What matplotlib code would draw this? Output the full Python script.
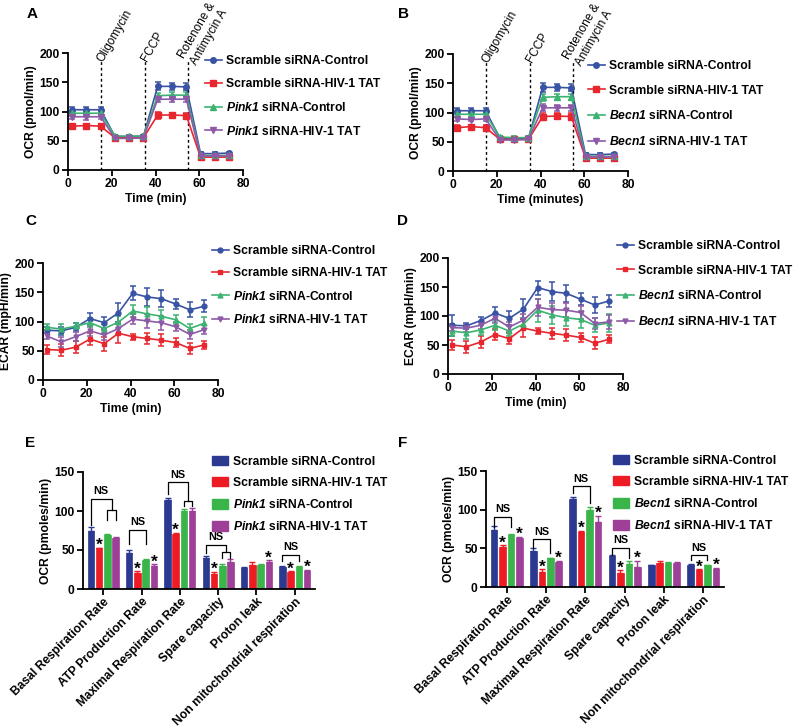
import numpy as np
import matplotlib
matplotlib.use('Agg')
import matplotlib.pyplot as plt
from matplotlib.lines import Line2D
from matplotlib.patches import Patch

plt.rcParams['font.family'] = 'Liberation Sans'
plt.rcParams['font.weight'] = 'bold'
plt.rcParams['axes.labelweight'] = 'bold'
plt.rcParams['mathtext.fontset'] = 'custom'
plt.rcParams['mathtext.rm'] = 'Liberation Sans:bold'
plt.rcParams['mathtext.sf'] = 'Liberation Sans:italic:bold'
plt.rcParams['mathtext.bf'] = 'Liberation Sans:bold'

# ---------------- data ----------------
time = [1.9, 8.4, 14.9, 21.5, 28.0, 34.5, 41.0, 47.6, 54.1, 60.6, 67.1, 73.7]
injections = [15, 35, 55]
inj_names = ['Oligomycin', 'FCCP', 'Rotenone &\nAntimycin A']

# OCR, panel A (Pink1)
ocrA = [[103, 103, 103, 57, 57, 58, 143, 143, 142, 28, 28, 29],
        [75, 76, 75, 55, 55, 55, 94, 94, 93, 22, 22, 22],
        [97, 97, 97, 58, 58, 58, 127, 128, 128, 25, 25, 25],
        [91, 91, 91, 54, 54, 55, 121, 121, 121, 24, 24, 24]]
ocrA_err = [[5, 5, 5, 2, 2, 2, 7, 6, 6, 2, 2, 2],
            [4, 3, 4, 2, 2, 2, 6, 3, 5, 2, 2, 2],
            [4, 4, 4, 2, 2, 2, 5, 5, 5, 2, 2, 2],
            [4, 6, 4, 2, 2, 2, 5, 5, 5, 2, 2, 2]]
# OCR, panel B (Becn1)
ocrB = [[103, 103, 103, 56, 55, 56, 143, 143, 142, 28, 28, 29],
        [74, 76, 74, 54, 54, 54, 93, 94, 93, 22, 22, 22],
        [97, 97, 97, 58, 57, 57, 126, 127, 127, 25, 25, 25],
        [89, 88, 89, 53, 53, 54, 108, 108, 108, 24, 24, 24]]
ocrB_err = [[5, 5, 5, 2, 2, 2, 8, 6, 6, 2, 2, 2],
            [4, 3, 4, 2, 2, 2, 6, 5, 6, 2, 2, 2],
            [4, 4, 4, 2, 2, 2, 6, 5, 5, 2, 2, 2],
            [3, 3, 3, 2, 2, 2, 6, 5, 5, 2, 2, 2]]
# ECAR, panel C (Pink1)
ecarC = [[85, 84, 90, 105, 98, 115, 148, 142, 139, 130, 120, 126],
         [52, 51, 56, 70, 62, 80, 74, 71, 68, 64, 54, 60],
         [90, 87, 92, 98, 88, 99, 118, 113, 109, 103, 88, 97],
         [75, 65, 74, 84, 77, 88, 104, 101, 98, 91, 78, 86]]
ecarC_err = [[5, 7, 7, 10, 10, 16, 12, 16, 15, 9, 13, 10],
             [8, 10, 10, 10, 12, 16, 5, 10, 10, 7, 10, 7],
             [5, 8, 5, 8, 7, 10, 10, 12, 10, 8, 8, 10],
             [5, 8, 8, 8, 8, 10, 8, 12, 12, 8, 8, 8]]
# ECAR, panel D (Becn1)
ecarD = [[84, 83, 92, 105, 96, 112, 149, 142, 139, 129, 119, 126],
         [50, 47, 55, 68, 61, 79, 74, 70, 67, 63, 53, 60],
         [74, 71, 76, 84, 74, 86, 110, 102, 97, 94, 84, 88],
         [80, 79, 84, 96, 81, 93, 115, 111, 110, 106, 87, 90]]
ecarD_err = [[18, 5, 7, 10, 12, 18, 12, 16, 15, 10, 13, 10],
             [8, 10, 10, 10, 10, 16, 5, 10, 10, 7, 10, 7],
             [8, 10, 8, 8, 8, 10, 20, 15, 15, 15, 12, 15],
             [6, 6, 6, 8, 8, 10, 15, 12, 12, 12, 10, 12]]

params = ['Basal Respiration Rate', 'ATP Production Rate', 'Maximal Respiration Rate',
          'Spare capacity', 'Proton leak', 'Non mitochondrial respiration']
# bar values per group (rows = parameter, cols = condition)
barE = [[74, 52, 69, 65], [46, 20, 37, 30], [114, 71, 100, 100],
        [40, 19, 30, 34], [27, 31, 31, 35], [28, 22, 28, 23]]
barE_err = [[5, 1, 1, 2], [4, 3, 1, 2], [3, 1, 3, 4],
            [2, 3, 2, 4], [1, 3, 1, 2], [2, 1, 1, 2]]
barF = [[74, 52, 67, 64], [46, 20, 37, 32], [114, 71, 99, 84],
        [40, 18, 30, 26], [28, 31, 31, 31], [29, 22, 28, 23]]
barF_err = [[5, 2, 1, 1], [4, 3, 1, 2], [3, 2, 4, 8],
            [2, 4, 3, 8], [1, 3, 1, 1], [1, 1, 1, 2]]
starsE = [(0, 1), (1, 1), (1, 3), (2, 1), (3, 1), (4, 3), (5, 1), (5, 3)]
starsF = [(0, 1), (0, 3), (1, 1), (1, 3), (2, 1), (2, 3), (3, 1), (3, 3), (5, 1), (5, 3)]
# NS brackets: group, left bar, right bar (2.5 = between bars 2 and 3), top, left foot, right foot, label
bracketsE = [(0, 0, 2.5, 116, 82, 101, 'NS'), (0, 2, 3, 101, 88, 88, ''),
             (1, 0, 2, 76, 58, 58, 'NS'),
             (2, 0, 2.5, 137, 122, 113, 'NS'), (2, 2, 3, 113, 106, 106, ''),
             (3, 0, 2.5, 57, 46, 48, 'NS'), (3, 2, 3, 48, 40, 40, ''),
             (5, 0, 2, 44, 36, 36, 'NS')]
bracketsF = [(0, 0, 2, 91, 78, 78, 'NS'), (1, 0, 2, 62, 51, 44, 'NS'),
             (2, 0, 2, 130, 121, 108, 'NS'), (3, 0, 2, 51, 41, 37, 'NS'),
             (5, 0, 2, 41, 35, 35, 'NS')]

labels_pink = ['Scramble siRNA-Control', 'Scramble siRNA-HIV-1 TAT',
               r'$\mathsf{Pink1}$ siRNA-Control', r'$\mathsf{Pink1}$ siRNA-HIV-1 TAT']
labels_becn = ['Scramble siRNA-Control', 'Scramble siRNA-HIV-1 TAT',
               r'$\mathsf{Becn1}$ siRNA-Control', r'$\mathsf{Becn1}$ siRNA-HIV-1 TAT']

line_cols = ['#3953a4', '#e8262e', '#3db371', '#8e5aa8']
bar_cols = ['#2b3990', '#ed1c24', '#39b54a', '#9e3f98']
markers = ['o', 's', '^', 'v']

W, H = 800, 727
fig = plt.figure(figsize=(8, 7.27), dpi=100)


def fbox(x0, y0, x1, y1):
    # pixel box -> figure fraction
    return [x0 / W, 1 - y1 / H, (x1 - x0) / W, (y1 - y0) / H]


def style(ax):
    for s in ['top', 'right']:
        ax.spines[s].set_visible(False)
    for s in ['left', 'bottom']:
        ax.spines[s].set_linewidth(1.3)
    ax.tick_params(direction='out', length=4, width=1.3, labelsize=8.7, pad=2)


def line_panel(box, ys, errs, labels, leg_xy, spacing, xlabel, ylabel, msize, inj=False):
    ax = fig.add_axes(fbox(*box))
    for i in range(4):
        ax.errorbar(time, ys[i], yerr=errs[i], color=line_cols[i], marker=markers[i],
                    ms=msize, lw=1.2, elinewidth=1.1, capsize=2, capthick=1.1)
    ax.set_xlim(0, 80)
    ax.set_ylim(0, 200)
    ax.set_xticks([0, 20, 40, 60, 80])
    ax.set_yticks([0, 50, 100, 150, 200])
    ax.set_xlabel(xlabel, fontsize=8.7, labelpad=2)
    ax.set_ylabel(ylabel, fontsize=8.7, labelpad=2)
    style(ax)
    if inj:
        for x, name in zip(injections, inj_names):
            ax.plot([x, x], [0, 190], color='k', lw=1, ls=(0, (2, 2)))
            ax.text(x - 0.3, 187, name, rotation=60, rotation_mode='anchor',
                    ha='left', va='center', fontsize=8.5, fontweight='normal')
    handles = [Line2D([], [], color=line_cols[i], marker=markers[i], ms=msize, lw=1.2)
               for i in range(4)]
    ax.legend(handles, labels, loc='upper left', bbox_to_anchor=(leg_xy[0] / W, 1 - leg_xy[1] / H),
              bbox_transform=fig.transFigure, frameon=False, fontsize=8.7, borderpad=0,
              borderaxespad=0, handlelength=1.4, handletextpad=0.35, labelspacing=spacing)
    return ax


def bar_panel(box, vals, errs, stars, brackets, labels, leg_xy):
    ax = fig.add_axes(fbox(*box))
    pitch, width = 0.215, 0.17
    vals = np.array(vals)
    errs = np.array(errs)
    g = np.arange(len(params))
    for j in range(4):
        xs = g + (j - 1.5) * pitch
        ax.bar(xs, vals[:, j], width, color=bar_cols[j], edgecolor=bar_cols[j], lw=0.5)
        ax.errorbar(xs, vals[:, j], yerr=[np.zeros(len(g)), errs[:, j]], fmt='none',
                    ecolor=bar_cols[j], elinewidth=1, capsize=2, capthick=1)
    for gi, j in stars:
        ax.text(gi + (j - 1.5) * pitch, vals[gi, j] + errs[gi, j] - 3, '*',
                ha='center', va='baseline', fontsize=12.5)
    for gi, j1, j2, top, b1, b2, lab in brackets:
        x1 = gi + (j1 - 1.5) * pitch
        x2 = gi + (j2 - 1.5) * pitch
        ax.plot([x1, x1, x2, x2], [b1, top, top, b2], color='k', lw=0.9)
        if lab:
            ax.text((x1 + x2) / 2, top + 3, lab, ha='center', va='bottom', fontsize=7.8)
    ax.set_xlim(-0.53, len(params) - 1 + 0.53)
    ax.set_ylim(0, 150)
    ax.set_yticks([0, 50, 100, 150])
    ax.set_xticks(g)
    ax.set_xticklabels(params, rotation=45, ha='right', rotation_mode='anchor', fontsize=8.1)
    ax.set_ylabel('OCR (pmoles/min)', fontsize=8.7, labelpad=2)
    style(ax)
    ax.tick_params(axis='x', pad=1)
    handles = [Patch(facecolor=c, edgecolor=c) for c in bar_cols]
    ax.legend(handles, labels, loc='upper left', bbox_to_anchor=(leg_xy[0] / W, 1 - leg_xy[1] / H),
              bbox_transform=fig.transFigure, frameon=False, fontsize=8.7, borderpad=0,
              borderaxespad=0, handlelength=1.35, handleheight=0.8, handletextpad=0.4,
              labelspacing=0.75)
    return ax


line_panel((68, 53, 243, 170), ocrA, ocrA_err, labels_pink, (205, 55), 0.9,
           'Time (min)', 'OCR (pmol/min)', 4, inj=True)
line_panel((453, 54, 628, 171), ocrB, ocrB_err, labels_becn, (588, 60), 1.05,
           'Time (minutes)', 'OCR (pmol/min)', 4, inj=True)
line_panel((43, 263, 218, 380), ecarC, ecarC_err, labels_pink, (212, 245), 0.85,
           'Time (min)', 'ECAR (mpH/min)', 3.5)
line_panel((448, 258, 623, 374), ecarD, ecarD_err, labels_becn, (617, 240), 1.05,
           'Time (min)', 'ECAR (mpH/min)', 3.5)
bar_panel((83, 472, 315, 589), barE, barE_err, starsE, bracketsE, labels_pink, (212, 456))
bar_panel((486, 471, 724, 587), barF, barF_err, starsF, bracketsF, labels_becn, (613, 455))

for lab, x, y in [('A', 27, 7), ('B', 398, 7), ('C', 25, 214), ('D', 397, 214),
                  ('E', 25, 436), ('F', 398, 436)]:
    fig.text(x / W, 1 - y / H, lab, fontsize=11, fontweight='bold', ha='left', va='top')

fig.savefig('out.png', dpi=100)
